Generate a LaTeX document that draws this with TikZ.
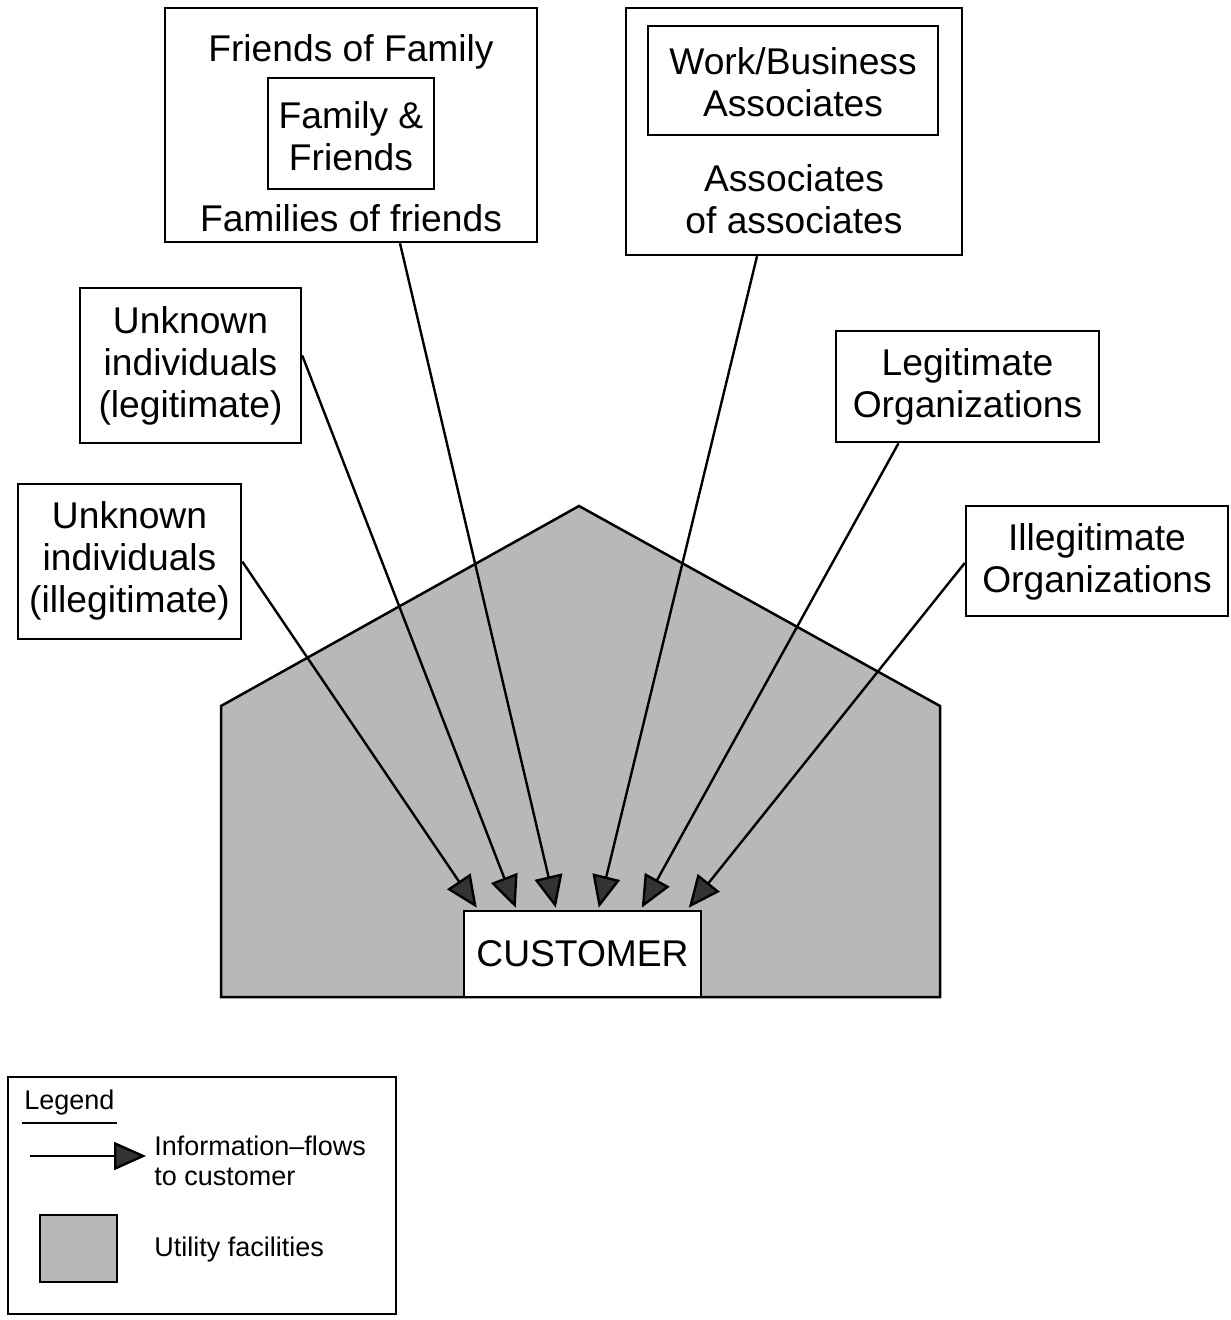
\documentclass[tikz,border=0pt]{standalone}
\usepackage{fontspec}
\setmainfont{Liberation Sans}
\usetikzlibrary{arrows.meta,calc}
\begin{document}
\begin{tikzpicture}[x=0.5pt,y=-0.5pt,
  box/.style={draw=black,line width=1.25pt,rectangle,inner sep=0pt,fill=white},
  lbl/.style={align=center,font=\fontsize{18.6}{21}\selectfont,inner sep=0pt},
  small/.style={align=left,font=\fontsize{13.5}{15}\selectfont,inner sep=0pt,anchor=west},
  flow/.style={line width=1.2pt,-{Triangle[length=16pt,width=14pt,fill=black!80]}},
  facility/.style={fill=black!28,draw=black,line width=1.25pt}]
\useasboundingbox (0,0) rectangle (1230,1320);

% utility facility outline
\draw[facility,line join=miter] (221,997) -- (221,706) -- (579,506) -- (940,706) -- (940,997) -- cycle;

% customer
\node[box,minimum width=118.5pt,minimum height=43pt] (cust) at (582.5,954) {};
\node[lbl] (custtxt) at (582.5,954) {CUSTOMER};

% family group
\node[box,minimum width=186pt,minimum height=117pt] (ff) at (351,125) {};
\node[box,minimum width=83pt,minimum height=55.5pt] (ffin) at (351,133.5) {};
\node[lbl] (fftop) at (351,52) {Friends of Family};
\node[lbl] (ffmid) at (351,136) {Family \&\\Friends};
\node[lbl] (ffbot) at (351,218) {Families of friends};

% business group
\node[box,minimum width=168pt,minimum height=123.5pt] (wb) at (794,131.5) {};
\node[box,minimum width=145pt,minimum height=54.5pt] (wbin) at (793,80.5) {};
\node[lbl] (wbmid) at (793,82) {Work/Business\\Associates};
\node[lbl] (wbbot) at (794,199) {Associates\\of associates};

% individuals and organizations
\node[box,minimum width=110.5pt,minimum height=77.5pt] (ul) at (190.5,365.5) {};
\node[lbl] (ultxt) at (190.5,366) {Unknown\\individuals\\(legitimate)};
\node[box,minimum width=111.5pt,minimum height=77.5pt] (ui) at (129.5,561.5) {};
\node[lbl] (uitxt) at (129.5,561) {Unknown\\individuals\\(illegitimate)};
\node[box,minimum width=131.5pt,minimum height=55.5pt] (lo) at (967.5,386.5) {};
\node[lbl] (lotxt) at (967.5,387) {Legitimate\\Organizations};
\node[box,minimum width=131pt,minimum height=55pt] (io) at (1097,561) {};
\node[lbl] (iotxt) at (1097,562) {Illegitimate\\Organizations};

% information flows
\draw[flow] (ui.east) -- ($(cust.north west)+(14,-2)$);
\draw[flow] ($(ul.east)+(0,-10)$) -- ($(cust.north west)+(53,-2)$);
\draw[flow] ($(ff.south)+(49,0)$) -- ($(cust.north west)+(93,-2)$);
\draw[flow] ($(wb.south)+(-37,0)$) -- ($(cust.north west)+(136,-2)$);
\draw[flow] ($(lo.south)+(-69,0)$) -- ($(cust.north west)+(179,-2)$);
\draw[flow] ($(io.west)+(0,2)$) -- ($(cust.north west)+(226,-2)$);

% legend
\node[box,minimum width=194pt,minimum height=118.5pt] (leg) at (202,1195.5) {};
\node[small] (legtitle) at (24,1103) {Legend};
\draw[line width=0.8pt] ($(legtitle.south west)+(-2,7)$) coordinate (ul0) -- ($(legtitle.south east)+(2,7)$) coordinate (ul1);
\coordinate (la0) at (30,1156);
\coordinate (la1) at (146,1156);
\draw[flow] (la0) -- (la1);
\node[small] (legflow) at (154,1161) {Information--flows\\to customer};
\node[facility,rectangle,minimum width=38.5pt,minimum height=33.5pt,inner sep=0pt] (legsq) at (78.5,1248.5) {};
\node[small] (legfac) at (154,1250) {Utility facilities};
\end{tikzpicture}
\end{document}
